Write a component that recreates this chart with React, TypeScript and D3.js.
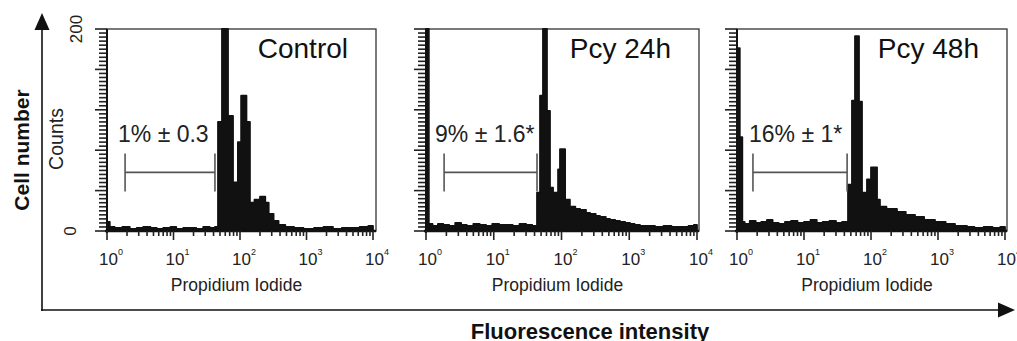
import * as d3 from "d3";

// panel titles and gate labels
const titles = ["Control", "Pcy 24h", "Pcy 48h"];
const gateLabels = ["1% ± 0.3", "9% ± 1.6*", "16% ± 1*"];
const gateLow = [1.87, 1.85, 1.73];
const gateHigh = [42, 43.5, 44];
const gateCount = 58;

// histogram bins: PI fluorescence (bin start) and counts
const controlPI = [1, 1.1, 1.3, 1.7, 2.2, 2.8, 3.5, 4.5, 5.6, 7, 9, 11, 14, 18, 22, 28, 35, 42, 46.7, 53.6, 66, 78.5, 93, 104, 125, 141, 165, 200, 240, 270, 320, 380, 480, 650, 900, 1300, 1800, 2500, 3400, 4600, 6300, 8500, 10000];
const controlCounts = [9, 4, 3, 4, 2, 3, 4, 3, 2, 3, 4, 2, 3, 3, 2, 4, 3, 4, 108, 230, 114, 48, 88, 134, 108, 28, 31, 34, 28, 17, 10, 6, 4, 3, 2, 3, 4, 2, 3, 3, 4, 5, 5];

const pcy24PI = [1, 1.1, 1.25, 1.5, 1.8, 2.2, 2.7, 3.3, 4, 5, 6.2, 7.7, 9.5, 12, 15, 19, 24, 30, 37, 43.5, 48.2, 53.3, 61, 67.6, 75, 89, 95, 113, 133, 160, 188, 230, 264, 320, 370, 450, 520, 620, 730, 870, 1025, 1200, 1440, 1800, 2400, 3200, 4200, 5600, 7500, 9000, 10000];
const pcy24Counts = [240, 7, 5, 7, 6, 5, 8, 6, 5, 7, 6, 5, 7, 6, 6, 5, 7, 6, 5, 38, 134, 240, 119, 43, 38, 61, 81, 31, 24, 22, 21, 18, 17, 15, 14, 12, 11, 10, 9, 8, 7, 6, 5, 5, 4, 5, 4, 4, 5, 6, 6];

const pcy48PI = [1, 1.1, 1.2, 1.3, 1.55, 1.9, 2.3, 2.8, 3.4, 4.2, 5.2, 6.4, 8, 10, 12.5, 15.5, 19, 24, 30, 37, 45.4, 52, 57.7, 66.2, 73.4, 87.1, 100, 123, 136, 170, 244, 330, 454, 620, 902, 1300, 1794, 2710, 3500, 4800, 6500, 8500, 10000];
const pcy48Counts = [181, 93, 9, 7, 10, 8, 9, 11, 8, 7, 9, 10, 8, 9, 11, 8, 9, 10, 8, 9, 46, 129, 193, 128, 38, 51, 63, 31, 24, 22, 19, 16, 14, 11, 9, 7, 5, 4, 3, 4, 3, 4, 4];

const decades = [0, 1, 2, 3, 4];

const FONT = "'Liberation Sans', Arial, Helvetica, sans-serif";

// layout per panel (px)
const boxLeft = [107, 426, 737];
const axisEnd = [373, 697, 1005];
const boxRight = [376, 699, 1007];
const labelOffset = [11, 9, 12];

const series = [
  { pi: controlPI, counts: controlCounts },
  { pi: pcy24PI, counts: pcy24Counts },
  { pi: pcy48PI, counts: pcy48Counts },
];

const top = 29;
const bottom = 231;

export default function App() {
  const y = d3.scaleLinear().domain([0, 200]).range([bottom, top]).clamp(true);

  const panels = series.map((s, i) => {
    const x = d3.scaleLog().domain([1, 10000]).range([boxLeft[i], axisEnd[i]]).clamp(true);
    const pts = s.pi.map((v, j) => ({ v, c: s.counts[j] }));
    const area = d3
      .area<{ v: number; c: number }>()
      .x((d) => x(d.v))
      .y0(bottom)
      .y1((d) => y(d.c))
      .curve(d3.curveStepAfter)(pts);
    const minor: number[] = [];
    decades.slice(0, 4).forEach((d) => {
      for (let k = 2; k <= 9; k++) minor.push(k * Math.pow(10, d));
    });
    const gx1 = x(gateLow[i]);
    const gx2 = x(gateHigh[i]);
    const gy = y(gateCount);
    return (
      <g key={i}>
        <rect
          x={boxLeft[i]}
          y={top}
          width={boxRight[i] - boxLeft[i]}
          height={bottom - top}
          fill="#fff"
          stroke="#333"
          strokeWidth={1.3}
        />
        <path d={area ?? ""} fill="#111" stroke="#111" strokeWidth={1.8} strokeLinejoin="round" />
        {/* left count ticks */}
        {d3.range(0, 201, 4).map((c) => (
          <line
            key={c}
            x1={boxLeft[i] - (c % 40 === 0 ? 12 : 8)}
            x2={boxLeft[i]}
            y1={y(c)}
            y2={y(c)}
            stroke="#222"
            strokeWidth={1.6}
          />
        ))}
        <line x1={boxLeft[i]} x2={boxLeft[i]} y1={top} y2={bottom + 2} stroke="#111" strokeWidth={2} />
        <line x1={boxLeft[i] - 2} x2={boxRight[i]} y1={bottom} y2={bottom} stroke="#111" strokeWidth={2.5} />
        {/* bottom log ticks */}
        {minor.map((v) => (
          <line key={v} x1={x(v)} x2={x(v)} y1={bottom} y2={bottom + 5} stroke="#222" strokeWidth={1.6} />
        ))}
        {decades.map((d) => (
          <g key={d}>
            <line
              x1={x(Math.pow(10, d))}
              x2={x(Math.pow(10, d))}
              y1={bottom}
              y2={bottom + 9}
              stroke="#222"
              strokeWidth={1.6}
            />
            <text x={x(Math.pow(10, d)) - 8} y={265} fontSize={17} fill="#222" fontFamily={FONT}>
              10
              <tspan fontSize={9} dy={-10}>
                {d}
              </tspan>
            </text>
          </g>
        ))}
        <text
          x={(boxLeft[i] + boxRight[i]) / 2 - 5}
          y={291}
          textAnchor="middle"
          fontSize={17.5}
          fill="#222"
          fontFamily={FONT}
        >
          Propidium Iodide
        </text>
        <text x={boxRight[i] - 28} y={58} textAnchor="end" fontSize={28} fill="#111" fontFamily={FONT}>
          {titles[i]}
        </text>
        <text x={boxLeft[i] + labelOffset[i]} y={142} fontSize={23} fill="#222" fontFamily={FONT}>
          {gateLabels[i]}
        </text>
        <g stroke="#555" strokeWidth={1.6}>
          <line x1={gx1} x2={gx2} y1={gy} y2={gy} />
          <line x1={gx1} x2={gx1} y1={gy - 19} y2={gy + 19} />
          <line x1={gx2} x2={gx2} y1={gy - 19} y2={gy + 19} />
        </g>
      </g>
    );
  });

  return (
    <svg
      width={1017}
      height={341}
      viewBox="0 0 1017 341"
      style={{ position: "absolute", left: 0, top: 0, background: "#fff" }}
    >
      <rect width={1017} height={341} fill="#fff" />
      {panels}
      {/* y axis labels (first panel) */}
      <text
        transform={`translate(82,${y(200)}) rotate(-90)`}
        textAnchor="middle"
        fontSize={17}
        fill="#222"
        fontFamily={FONT}
      >
        200
      </text>
      <text
        transform={`translate(76,${y(0)}) rotate(-90)`}
        textAnchor="middle"
        fontSize={17}
        fill="#222"
        fontFamily={FONT}
      >
        0
      </text>
      <text
        transform="translate(63,139) rotate(-90)"
        textAnchor="middle"
        fontSize={19.5}
        fill="#222"
        fontFamily={FONT}
      >
        Counts
      </text>
      <text
        transform="translate(29,150) rotate(-90)"
        textAnchor="middle"
        fontSize={21}
        fontWeight="bold"
        fill="#111"
        fontFamily={FONT}
      >
        Cell number
      </text>
      {/* big axes */}
      <line x1={42} x2={42} y1={311} y2={26} stroke="#111" strokeWidth={1.6} />
      <path d="M42,13 L34.5,30 L49.5,30 Z" fill="#111" />
      <line x1={41} x2={1000} y1={310} y2={310} stroke="#111" strokeWidth={1.6} />
      <path d="M1015,310 L998,302.5 L998,317.5 Z" fill="#111" />
      <text x={590} y={339} textAnchor="middle" fontSize={22} fontWeight="bold" fill="#111" fontFamily={FONT}>
        Fluorescence intensity
      </text>
    </svg>
  );
}
